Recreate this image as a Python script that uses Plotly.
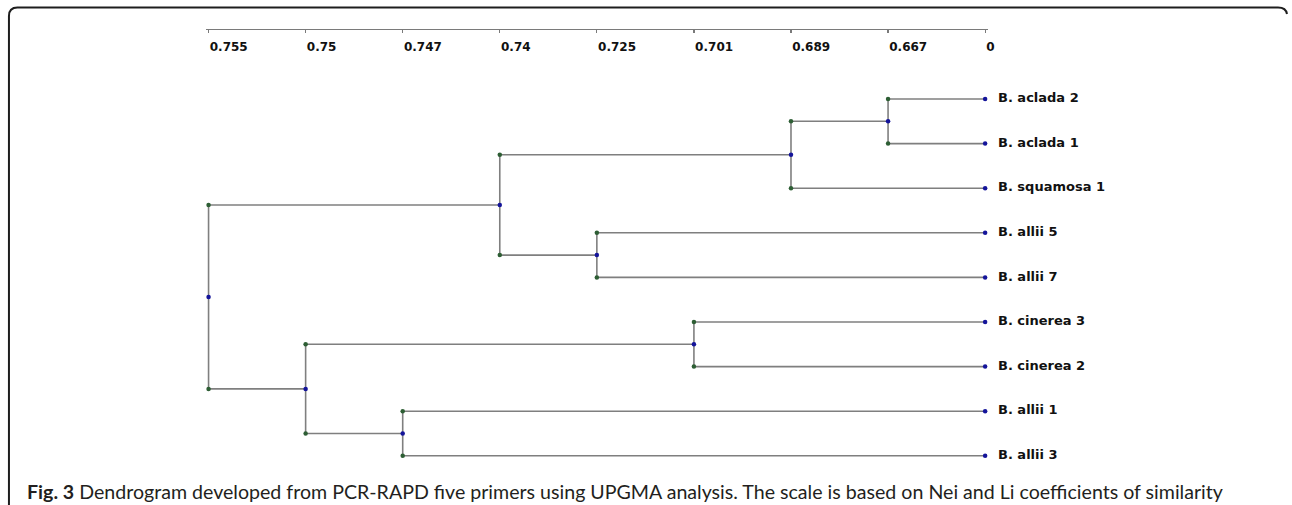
import plotly.graph_objects as go

# ---- data ----
scale_labels = ["0.755", "0.75", "0.747", "0.74", "0.725", "0.701", "0.689", "0.667", "0"]
leaves = ["B. aclada 2", "B. aclada 1", "B. squamosa 1", "B. allii 5", "B. allii 7",
          "B. cinerea 3", "B. cinerea 2", "B. allii 1", "B. allii 3"]
# merges: node ids 0..8 are leaves, each merge creates the next id (9, 10, ...)
merge_left = [0, 9, 3, 10, 5, 7, 13, 12]
merge_right = [1, 2, 4, 11, 6, 8, 14, 15]
merge_level = ["0.667", "0.689", "0.725", "0.74", "0.701", "0.747", "0.75", "0.755"]
caption_bold = "Fig. 3"
caption_text = ("Dendrogram developed from PCR-RAPD five primers using UPGMA analysis. "
                "The scale is based on Nei and Li coefficients of similarity")

# ---- build geometry ----
node_x = {i: scale_labels[-1] for i in range(len(leaves))}
node_y = {i: float(i) for i in range(len(leaves))}
lx, ly = [], []
gx, gy = [], []
bx, by = [], []
nid = len(leaves)
for a, b, lev in zip(merge_left, merge_right, merge_level):
    ya, yb = node_y[a], node_y[b]
    lx += [lev, lev, None]
    ly += [ya, yb, None]
    for c in (a, b):
        lx += [lev, node_x[c], None]
        ly += [node_y[c], node_y[c], None]
        gx.append(lev)
        gy.append(node_y[c])
    node_x[nid] = lev
    node_y[nid] = (ya + yb) / 2
    bx.append(lev)
    by.append(node_y[nid])
    nid += 1

W, H = 1292, 505
LINE = "#7f7f7f"
BLUE = "#14149a"
GREEN = "#2d5e34"

fig = go.Figure()
fig.add_trace(go.Scatter(x=lx, y=ly, mode="lines", line=dict(color=LINE, width=1.6),
                         hoverinfo="skip", showlegend=False))
fig.add_trace(go.Scatter(x=gx, y=gy, mode="markers", marker=dict(color=GREEN, size=4.5),
                         cliponaxis=False, showlegend=False))
fig.add_trace(go.Scatter(x=bx, y=by, mode="markers", marker=dict(color=BLUE, size=4.5),
                         cliponaxis=False, showlegend=False))
fig.add_trace(go.Scatter(x=[scale_labels[-1]] * len(leaves), y=list(range(len(leaves))),
                         mode="markers+text", text=["\u00a0\u00a0" + s for s in leaves],
                         textposition="middle right",
                         marker=dict(color=BLUE, size=4.5),
                         textfont=dict(family="DejaVu Sans", size=13, color="#111111", weight="bold"),
                         cliponaxis=False, showlegend=False))

px = lambda v: v / W
py = lambda v: 1 - v / H

x_left, x_step = 209.7, 97.6
pad = 0.03
x0 = x_left - pad * x_step
x1 = x_left + (len(scale_labels) - 1 + pad) * x_step
row0, row_step = 99.0, 44.6
ypad = 0.2
y_top = row0 - ypad * row_step
y_bot = row0 + (len(leaves) - 1 + ypad) * row_step

fig.update_layout(
    width=W, height=H,
    margin=dict(l=0, r=0, t=0, b=0),
    paper_bgcolor="white", plot_bgcolor="white",
    xaxis=dict(type="category", categoryarray=scale_labels, categoryorder="array",
               range=[-pad, len(scale_labels) - 1 + pad],
               domain=[px(x0), px(x1)], anchor="free", position=py(29), side="bottom",
               showline=True, linecolor="#7a7a7a", linewidth=1.2,
               ticks="outside", ticklen=3, tickcolor="#7a7a7a", tickwidth=1.2,
               ticklabelposition="outside right", ticklabelstandoff=6,
               tickfont=dict(family="DejaVu Sans", size=12, color="#111111", weight="bold"),
               showgrid=False, zeroline=False, fixedrange=True),
    yaxis=dict(range=[len(leaves) - 1 + ypad, -ypad], domain=[py(y_bot), py(y_top)],
               visible=False, fixedrange=True),
    shapes=[dict(type="path", xref="paper", yref="paper",
                 path=(f"M {px(9)} {py(512)} L {px(9)} {py(16)} "
                       f"Q {px(9)} {py(7.5)} {px(17.5)} {py(7.5)} "
                       f"L {px(1285)} {py(7.5)} Q {px(1293)} {py(7.5)} {px(1294)} {py(14)}"),
                 line=dict(color="#1e1e1e", width=2))],
    annotations=[dict(xref="paper", yref="paper", x=px(25), y=py(491), xanchor="left",
                      yanchor="middle", showarrow=False,
                      text=f"<b>{caption_bold}</b> {caption_text}",
                      font=dict(family="Lato", size=19.6, color="#231f20"))],
)

fig.write_html("out.html",
               config={"displayModeBar": False, "staticPlot": True},
               post_script=("document.documentElement.style.overflow='hidden';"
                            "document.body.style.overflow='hidden';"
                            "document.body.style.margin='0px';"))
